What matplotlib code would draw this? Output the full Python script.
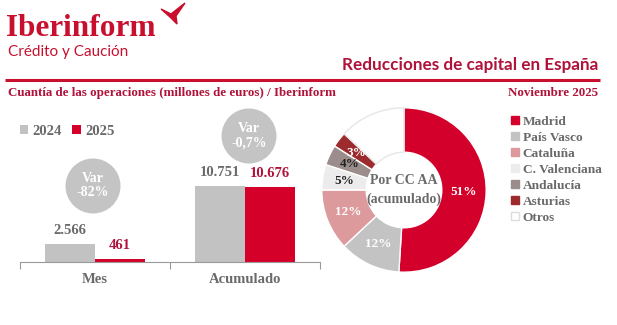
import numpy as np
import matplotlib.pyplot as plt
from matplotlib.patches import Circle, Polygon, Patch

# bar data (millones de euros)
periods = ['Mes', 'Acumulado']
vals_2024 = [2566, 10751]
vals_2025 = [461, 10676]
var_labels = ['Var\n-82%', 'Var\n-0,7%']

# donut data (% por CC AA, acumulado)
regions = ['Madrid', 'País Vasco', 'Cataluña', 'C. Valenciana', 'Andalucía', 'Asturias', 'Otros']
shares = [51, 12, 12, 5, 4, 3, 13]
region_colors = ['#d3002b', '#c3c3c3', '#dc9a9c', '#ececec', '#9b8d8b', '#9d2a2c', '#ffffff']
pct_colors = ['white', 'white', 'white', '#222222', '#222222', 'white', None]

RED = '#c8102e'
DARKRED = '#b0123a'
GRAY_TXT = '#6a6a6a'
SERIF = 'Liberation Serif'

fig = plt.figure(figsize=(6.17, 3.25), dpi=100)
W, H = 617, 325

# overlay in pixel coords for header / decorations
deco = fig.add_axes([0, 0, 1, 1])
deco.set_xlim(0, W)
deco.set_ylim(H, 0)
deco.axis('off')

deco.text(6, 36, 'Iberinform', color=RED, fontsize=22.5, fontweight='bold',
          family=SERIF, va='baseline')
deco.add_patch(Polygon([[161, 9], [171, 14], [185, 3], [176, 16], [177, 24],
                        [170, 17]], closed=True, color=RED))
deco.text(8, 56, 'Crédito y Caución', color=RED, fontsize=11, family='Lato',
          va='baseline')
deco.text(598, 65, 'Reducciones de capital en España', color=DARKRED,
          fontsize=12.3, fontweight='bold', family='Lato', ha='right', va='center')
deco.plot([5, 600], [80, 80], color=RED, lw=2.2, solid_capstyle='butt')
deco.text(8, 93, 'Cuantía de las operaciones (millones de euros) / Iberinform',
          color=DARKRED, fontsize=9.4, fontweight='bold', family=SERIF, va='center')
deco.text(598, 93, 'Noviembre 2025', color=DARKRED, fontsize=9.4,
          fontweight='bold', family=SERIF, ha='right', va='center')

# var circles
for (cx, cy), lab in zip([(93, 186), (249, 136)], var_labels):
    deco.add_patch(Circle((cx, cy), 27.5, color='#c4c4c4', lw=0))
    deco.text(cx, cy, lab, color='white', fontsize=10, fontweight='bold',
              family=SERIF, ha='center', va='center', linespacing=1.1)

# bar chart
ax = fig.add_axes([20 / W, 63 / H, 300 / W, 152 / H])
ax.patch.set_visible(False)
x = list(range(len(periods)))
w = 0.333
b1 = ax.bar([i - w / 2 for i in x], vals_2024, w, color='#c2c2c2', label='2024')
b2 = ax.bar([i + w / 2 for i in x], vals_2025, w, color='#d5002a', label='2025')
fmt = lambda v: f'{v:,}'.replace(',', '.')
ax.bar_label(b1, labels=[fmt(v) for v in vals_2024], padding=5, color=GRAY_TXT,
             fontsize=10.5, fontweight='bold', family=SERIF)
ax.bar_label(b2, labels=[fmt(v) for v in vals_2025], padding=5, color=DARKRED,
             fontsize=10.5, fontweight='bold', family=SERIF)
ax.set_xlim(-0.5, 1.5)
ax.set_ylim(0, 21500)
ax.set_xticks(x)
ax.set_xticklabels(periods, fontsize=10.5, fontweight='bold', family=SERIF,
                   color=GRAY_TXT)
ax.tick_params(axis='x', which='major', length=0, pad=8)
ax.set_xticks([-0.5, 0.5, 1.5], minor=True)
ax.tick_params(axis='x', which='minor', length=5, color='#999999', width=0.8)
ax.set_yticks([])
for s in ['top', 'right', 'left']:
    ax.spines[s].set_visible(False)
ax.spines['bottom'].set_color('#999999')
ax.spines['bottom'].set_linewidth(0.8)
leg = ax.legend(loc='upper left', bbox_to_anchor=(-0.045, 0.99), ncol=2,
                frameon=False, handlelength=0.6, handleheight=0.6,
                handletextpad=0.3, columnspacing=0.7,
                prop={'family': SERIF, 'weight': 'bold', 'size': 10.5})
for t in leg.get_texts():
    t.set_color(GRAY_TXT)

# donut
R = 83
pax = fig.add_axes([(404 - R) / W, (H - 190 - R) / H, 2 * R / W, 2 * R / H])
wedges, _ = pax.pie(shares, colors=region_colors, startangle=90, counterclock=False,
                    radius=1, wedgeprops=dict(width=0.54, edgecolor='white', linewidth=1))
wedges[-1].set_edgecolor('#e6e6e6')
pax.set_xlim(-1.01, 1.01)
pax.set_ylim(-1.01, 1.01)
for wdg, v, c in zip(wedges, shares, pct_colors):
    if c is None:
        continue
    ang = np.deg2rad((wdg.theta1 + wdg.theta2) / 2)
    pax.text(0.73 * np.cos(ang), 0.73 * np.sin(ang), f'{v}%', color=c,
             fontsize=9.5, fontweight='bold', family=SERIF, ha='center', va='center')
pax.text(0, 0, 'Por CC AA\n(acumulado)', color=GRAY_TXT, fontsize=10,
         fontweight='bold', family=SERIF, ha='center', va='center', linespacing=1.5)

handles = [Patch(facecolor=c, edgecolor=('#dddddd' if c == '#ffffff' else c))
           for c in region_colors]
lg = fig.legend(handles, regions, loc='upper left', bbox_to_anchor=(504 / W, 1 - 109 / H),
                frameon=False, handlelength=0.6, handleheight=0.6, handletextpad=0.3,
                labelspacing=0.3, borderpad=0,
                prop={'family': SERIF, 'weight': 'bold', 'size': 9.6})
for t in lg.get_texts():
    t.set_color(GRAY_TXT)

fig.savefig('out.png', dpi=100, facecolor='white')
